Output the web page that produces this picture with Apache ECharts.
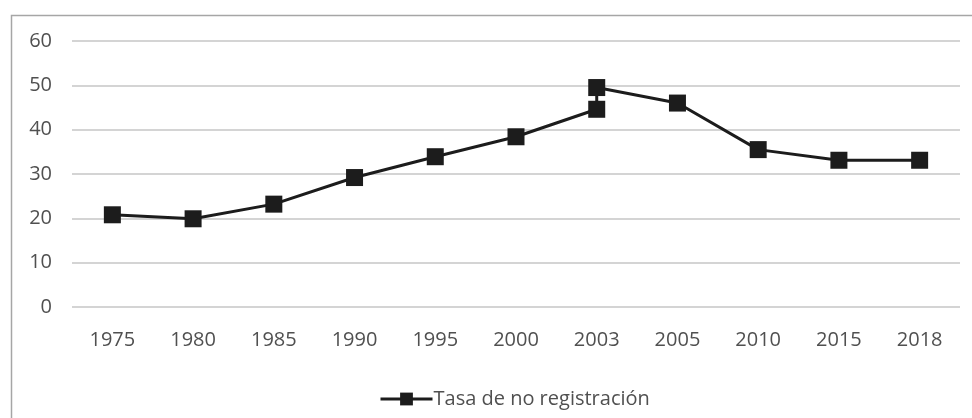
<!DOCTYPE html>
<html>
<head>
<meta charset="utf-8">
<script src="https://cdn.jsdelivr.net/npm/echarts@6/dist/echarts.min.js"></script>
<style>
  html, body { margin: 0; padding: 0; background: #fff; }
  #chart { width: 972px; height: 418px; }
</style>
</head>
<body>
<div id="chart"></div>
<script>
// categorías del eje x
const years = ['1975', '1980', '1985', '1990', '1995', '2000', '2003', '2005', '2010', '2015', '2018'];
// puntos de la serie (2003 aparece dos veces)
const pointYears = ['1975', '1980', '1985', '1990', '1995', '2000', '2003', '2003', '2005', '2010', '2015', '2018'];
const tasa = [20.8, 19.9, 23.2, 29.2, 33.9, 38.4, 44.6, 49.5, 46.0, 35.5, 33.1, 33.1];
const yTicks = [0, 10, 20, 30, 40, 50, 60];

const chart = echarts.init(document.getElementById('chart'));
const font = 'Open Sans';
const textColor = '#505050';

chart.setOption({
    animation: false,
    graphic: [{
        type: 'rect',
        left: 9, top: 13,
        shape: { width: 1000, height: 450 },
        style: { fill: 'none', stroke: '#a6a6a6', lineWidth: 1.5 },
        silent: true
    }],
    grid: { left: 72, right: 12, top: 41, bottom: 111 },
    xAxis: {
        type: 'category',
        data: years,
        boundaryGap: true,
        axisLine: { show: false },
        axisTick: { show: false },
        axisLabel: { color: textColor, fontFamily: font, fontSize: 20, margin: 23 }
    },
    yAxis: {
        type: 'value',
        min: yTicks[0],
        max: yTicks[yTicks.length - 1],
        interval: 10,
        axisLine: { show: false },
        axisTick: { show: false },
        axisLabel: { color: textColor, fontFamily: font, fontSize: 20, margin: 20 },
        splitLine: { lineStyle: { color: '#c6c6c6', width: 1.5 } }
    },
    legend: {
        left: 374,
        top: 384,
        itemWidth: 52,
        itemHeight: 16,
        itemGap: 4,
        lineStyle: { width: 3 },
        textStyle: { color: textColor, fontFamily: font, fontSize: 20, padding: [0, 0, 0, -4] },
        data: ['Tasa de no registración']
    },
    series: [{
        name: 'Tasa de no registración',
        type: 'line',
        data: pointYears.map((y, i) => [y, tasa[i]]),
        symbol: 'rect',
        symbolSize: 17,
        itemStyle: { color: '#1c1c1c' },
        lineStyle: { color: '#1c1c1c', width: 3 }
    }]
});
</script>
</body>
</html>
